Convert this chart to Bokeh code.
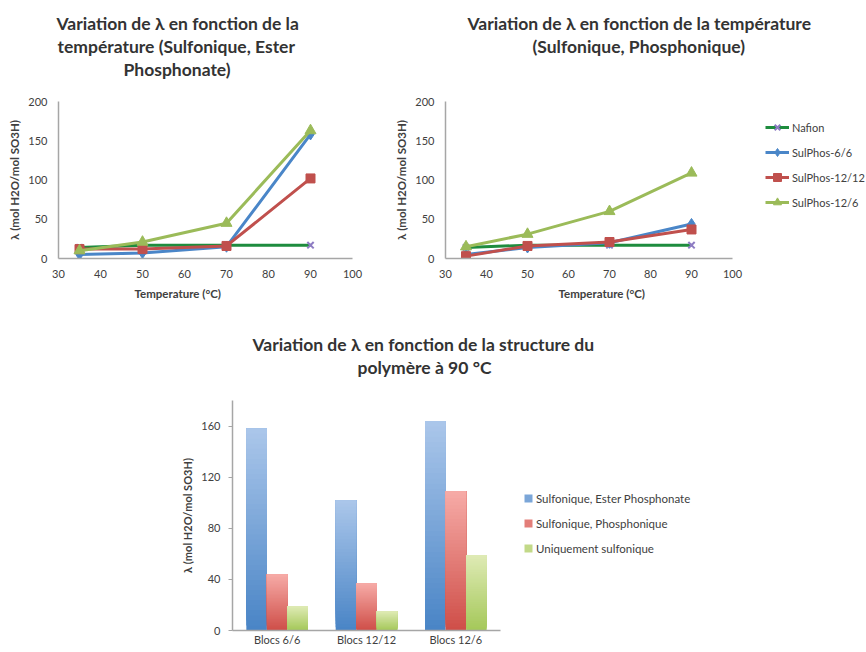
import numpy as np
from bokeh.plotting import figure
from bokeh.models import (Range1d, Legend, LegendItem, ColumnDataSource, FixedTicker, Title)
from bokeh.layouts import column, row
from bokeh.embed import file_html
from bokeh.resources import INLINE

FONT = "Lato"

# ---------------- data ----------------
temps = [35, 50, 70, 90]
series_names = ["Nafion", "SulPhos-6/6", "SulPhos-12/12", "SulPhos-12/6"]

# Chart 1: Sulfonique, Ester Phosphonate
ester_nafion = [14, 17, 17, 17]
ester_66 = [5, 7, 15, 158]
ester_1212 = [12, 12, 16, 102]
ester_126 = [10, 21, 45, 163]

# Chart 2: Sulfonique, Phosphonique
phos_nafion = [14, 17, 17, 17]
phos_66 = [5, 14, 20, 44]
phos_1212 = [3, 16, 21, 37]
phos_126 = [15, 31, 60, 109]

temp_ticks = [30, 40, 50, 60, 70, 80, 90, 100]
lambda_ticks = [0, 50, 100, 150, 200]

# Chart 3: structure at 90 °C
structures = ["Blocs 6/6", "Blocs 12/12", "Blocs 12/6"]
bar_series = ["Sulfonique, Ester Phosphonate", "Sulfonique, Phosphonique", "Uniquement sulfonique"]
ester_90 = [158, 102, 164]
phos_90 = [44, 37, 109]
sulf_90 = [19, 15, 59]
bar_ticks = [0, 40, 80, 120, 160]

title1 = ["Variation de λ en fonction de la", "température (Sulfonique, Ester", "Phosphonate)"]
title2 = ["Variation de λ en fonction de la température", "(Sulfonique, Phosphonique)"]
title3 = ["Variation de λ en fonction de la structure du", "polymère à 90 °C"]
x_title = "Temperature (°C)"
y_title = "λ (mol H2O/mol SO3H)"

# ---------------- styles ----------------
TXT = "#404040"
AXC = "#A6A6A6"
line_styles = [
    dict(color="#1E8C3E", marker="x", mcolor="#8E7CC3", size=9),
    dict(color="#4A86C8", marker="diamond", mcolor="#4A86C8", size=11),
    dict(color="#C0504D", marker="square", mcolor="#C0504D", size=9),
    dict(color="#9BBB59", marker="triangle", mcolor="#9BBB59", size=11),
]
TOP_H = 316
BOT_H = 336


def clean(p):
    p.outline_line_color = None
    p.xgrid.grid_line_color = None
    p.ygrid.grid_line_color = None
    p.background_fill_color = "white"
    p.border_fill_color = "white"


def style_axes(p, ylab_size):
    clean(p)
    for ax in p.axis:
        ax.axis_line_color = AXC
        ax.axis_line_width = 1.5
        ax.major_label_text_font = FONT
        ax.major_label_text_font_size = "11px"
        ax.major_label_text_color = TXT
        ax.axis_label_text_font = FONT
        ax.axis_label_text_font_size = ylab_size
        ax.axis_label_text_font_style = "bold"
        ax.axis_label_text_color = TXT
        ax.minor_tick_line_color = None


def title_kw(size="17.5px"):
    return dict(align="left", text_font=FONT, text_font_size=size,
                text_font_style="bold", text_color="#333333")


def set_titles(p, lines, offsets, gap):
    # titles added first sit closest to the frame; p.title is the outermost line
    p.add_layout(Title(text=" ", text_font_size="1px", standoff=gap), "above")
    for i in range(len(lines) - 1, 0, -1):
        p.add_layout(Title(text=lines[i], offset=offsets[i], standoff=0, **title_kw()), "above")
    p.title.text = lines[0]
    p.title.offset = offsets[0]
    p.title.standoff = 0
    for k, v in title_kw().items():
        setattr(p.title, k, v)


def line_chart(width, bl, bt, x_end, xt_off, ys):
    p = figure(width=width, height=TOP_H, output_backend="svg", toolbar_location=None,
               x_range=Range1d(30, x_end), y_range=Range1d(0, 200),
               min_border_left=bl, min_border_right=0,
               min_border_top=bt, min_border_bottom=58)
    renderers = []
    for vals, st in zip(ys, line_styles):
        src = ColumnDataSource(dict(x=temps, y=vals))
        lr = p.line("x", "y", source=src, line_color=st["color"], line_width=3)
        if st["marker"] == "x":
            sr = p.scatter("x", "y", source=src, marker="x", size=st["size"],
                           line_color=st["mcolor"], line_width=2)
        else:
            sr = p.scatter("x", "y", source=src, marker=st["marker"], size=st["size"],
                           fill_color=st["mcolor"], line_color=st["mcolor"])
        renderers.append([lr, sr])
    p.xaxis.ticker = FixedTicker(ticks=temp_ticks)
    p.xaxis.bounds = (temp_ticks[0], temp_ticks[-1])
    p.yaxis.ticker = FixedTicker(ticks=lambda_ticks)
    p.yaxis.axis_label = y_title
    style_axes(p, "11.5px")
    for ax in p.axis:
        ax.major_tick_line_color = None
        ax.major_tick_out = 0
        ax.major_tick_in = 0
        ax.major_label_standoff = 11
    p.yaxis.axis_label_standoff = 4
    p.add_layout(Title(text=x_title, align="left", offset=xt_off, vertical_align="top",
                       standoff=12, text_font=FONT, text_font_size="11.5px",
                       text_font_style="bold", text_color=TXT), "below")
    return p, renderers


# ---- chart 1: canvas x 0..388, frame x 58..(100 at 352), y 98..258
p1, _ = line_chart(388, 58, 98, 30 + 70 * (388 - 58) / (352 - 58), 76,
                   [ester_nafion, ester_66, ester_1212, ester_126])
set_titles(p1, title1, [-2, -1, 65], 19)

# ---- chart 2: canvas x 388..866, frame x 445..(100 at 732), y 101..258
p2, rends = line_chart(478, 57, 101, 30 + 70 * (866 - 445) / (732 - 445), 113,
                       [phos_nafion, phos_66, phos_1212, phos_126])
set_titles(p2, title2, [22, 87], 42)
leg2 = Legend(items=[LegendItem(label=n, renderers=r) for n, r in zip(series_names, rends)],
              location=(320, 46), margin=0, padding=0, spacing=5,
              glyph_width=24, glyph_height=20, label_height=20, label_standoff=3,
              label_text_font=FONT, label_text_font_size="11px", label_text_color=TXT,
              border_line_color=None, background_fill_alpha=0)
p2.add_layout(leg2, "center")

# ---------------- bar chart: canvas x 0..866, y 316..652; frame x 232..(3 groups end 500), y 400..630 ----------------
idx = np.arange(len(structures))
group_end = len(structures)
p3 = figure(width=866, height=BOT_H, output_backend="svg", toolbar_location=None,
            x_range=Range1d(0, group_end * (866 - 232) / (500 - 232)), y_range=Range1d(0, 180),
            min_border_left=232, min_border_right=0, min_border_top=84, min_border_bottom=22)
set_titles(p3, title3, [20, 125], 20)


def hex2rgb(h):
    h = h.lstrip("#")
    return np.array([int(h[i:i + 2], 16) for i in (0, 2, 4)], dtype=float)


def rgb2hex(c):
    return "#%02x%02x%02x" % tuple(int(round(v)) for v in c)


gradients = [("#4A85C6", "#AAC6EA"), ("#CF4F49", "#F6AAA6"), ("#A5C85A", "#DEEAB4")]
offsets = [-0.23, 0.0, 0.23]
N = 40
bar_items = []
for name, vals, (dark, light), off in zip(bar_series, [ester_90, phos_90, sulf_90], gradients, offsets):
    d, l = hex2rgb(dark), hex2rgb(light)
    xs, bots, tops, cols = [], [], [], []
    for i, v in zip(idx, vals):
        for k in range(N):
            xs.append(i + 0.5 + off)
            bots.append(v * k / N)
            tops.append(v)
            cols.append(rgb2hex(d + (l - d) * k / (N - 1)))
    src = ColumnDataSource(dict(x=xs, bottom=bots, top=tops, color=cols))
    r = p3.vbar(x="x", bottom="bottom", top="top", width=0.23,
                fill_color="color", line_color=None, source=src)
    bar_items.append(LegendItem(label=name, renderers=[r], index=N // 2))

p3.yaxis.ticker = FixedTicker(ticks=bar_ticks)
p3.xaxis.ticker = FixedTicker(ticks=list(idx + 0.5))
p3.xaxis.major_label_overrides = {float(i + 0.5): s for i, s in zip(idx, structures)}
p3.xaxis.bounds = (0, group_end)
p3.yaxis.axis_label = y_title
style_axes(p3, "11px")
p3.yaxis.major_tick_line_color = AXC
p3.yaxis.major_tick_out = 4
p3.yaxis.major_tick_in = 0
p3.yaxis.major_label_standoff = 8
p3.yaxis.axis_label_standoff = 4
p3.xaxis.major_tick_line_color = None
p3.xaxis.major_tick_out = 0
p3.xaxis.major_label_standoff = 2

leg3 = Legend(items=bar_items, location=(291, 72), margin=0, padding=0, spacing=5,
              glyph_width=10, glyph_height=10, label_height=20, label_standoff=3,
              label_text_font=FONT, label_text_font_size="11.5px", label_text_color=TXT,
              border_line_color=None, background_fill_alpha=0)
p3.add_layout(leg3, "center")

layout = column(row(p1, p2), p3)
open("out.html", "w").write(file_html(layout, INLINE))
